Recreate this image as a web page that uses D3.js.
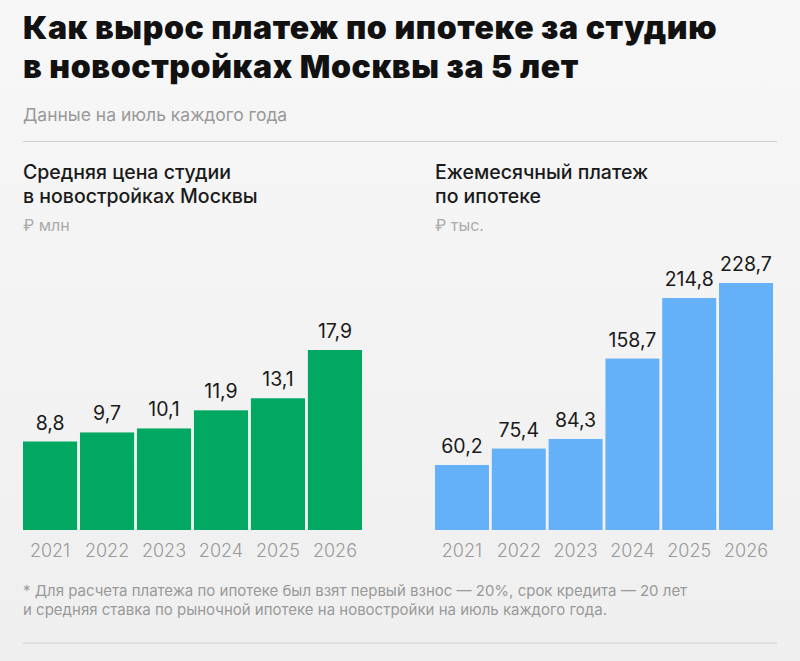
<!DOCTYPE html>
<html>
<head>
<meta charset="utf-8">
<script src="https://cdn.jsdelivr.net/npm/d3@7"></script>
<style>
  html, body { margin: 0; padding: 0; background: #f2f2f2; }
  svg { display: block; font-family: Inter, "Noto Sans", sans-serif; }
</style>
</head>
<body>
<div id="chart"></div>
<script>
/* Платеж по ипотеке за студию, Москва */

const width = 800,
    height = 661;

// data
const years = ["2021", "2022", "2023", "2024", "2025", "2026"];
const price = [8.8, 9.7, 10.1, 11.9, 13.1, 17.9];        // ₽ млн
const payment = [60.2, 75.4, 84.3, 158.7, 214.8, 228.7]; // ₽ тыс.

const titleLines = ["Как вырос платеж по ипотеке за студию", "в новостройках Москвы за 5 лет"];
const subtitle = "Данные на июль каждого года";
const leftTitle = ["Средняя цена студии", "в новостройках Москвы"];
const leftUnit = "₽ млн";
const rightTitle = ["Ежемесячный платеж", "по ипотеке"];
const rightUnit = "₽ тыс.";
const footnote = [
  "* Для расчета платежа по ипотеке был взят первый взнос — 20%, срок кредита — 20 лет",
  "и средняя ставка по рыночной ипотеке на новостройки на июль каждого года."
];

const fmt = v => String(v).replace(".", ","); // russian decimal comma

const svg = d3.select("#chart")
  .append("svg")
  .attr("width", width)
  .attr("height", height)
  .attr("viewBox", [0, 0, width, height]);

// background
const grad = svg.append("defs").append("linearGradient")
  .attr("id", "bg").attr("x1", 0).attr("y1", 0).attr("x2", 0).attr("y2", 1);
grad.append("stop").attr("offset", "0%").attr("stop-color", "#f7f7f7");
grad.append("stop").attr("offset", "100%").attr("stop-color", "#efefef");
svg.append("rect").attr("width", width).attr("height", height).attr("fill", "url(#bg)");

// heading
svg.append("g").selectAll("text")
  .data(titleLines)
  .join("text")
    .attr("x", 23)
    .attr("y", (d, i) => 39 + i * 39)
    .attr("font-size", 32)
    .attr("font-weight", 900)
    .attr("letter-spacing", 0.6)
    .attr("fill", "#111")
    .text(d => d);

svg.append("text")
  .attr("x", 23).attr("y", 121)
  .attr("font-size", 17.5)
  .attr("fill", "#999")
  .text(subtitle);

svg.append("line")
  .attr("x1", 23).attr("x2", 777)
  .attr("y1", 141.5).attr("y2", 141.5)
  .attr("stroke", "#cfcfcf");

// one bar panel
function panel(x0, x1, values, color, head, unit, top) {
  const g = svg.append("g");

  g.selectAll(".head")
    .data(head)
    .join("text")
      .attr("class", "head")
      .attr("x", x0)
      .attr("y", (d, i) => 179 + i * 24)
      .attr("font-size", 19.5)
      .attr("font-weight", 500)
      .attr("fill", "#1a1a1a")
      .text(d => d);

  g.append("text")
    .attr("x", x0).attr("y", 231)
    .attr("font-size", 16)
    .attr("fill", "#aaa")
    .text(unit);

  let x = d3.scaleBand()
    .domain(years)
    .range([x0, x1])
    .paddingInner(0.05)
    .paddingOuter(0);

  let y = d3.scaleLinear()
    .domain([0, d3.max(values)])
    .range([530, top]);

  const data = years.map((yr, i) => ({ yr, v: values[i] }));

  g.selectAll("rect")
    .data(data)
    .join("rect")
      .attr("x", d => x(d.yr))
      .attr("y", d => y(d.v))
      .attr("width", x.bandwidth())
      .attr("height", d => y(0) - y(d.v))
      .attr("fill", color);

  g.selectAll(".val")
    .data(data)
    .join("text")
      .attr("class", "val")
      .attr("x", d => x(d.yr) + x.bandwidth() / 2)
      .attr("y", d => y(d.v) - 12)
      .attr("text-anchor", "middle")
      .attr("font-size", 19.5)
      .attr("fill", "#1a1a1a")
      .text(d => fmt(d.v));

  // year axis, no line and no ticks
  const ax = g.append("g")
    .attr("transform", `translate(0,530)`)
    .call(d3.axisBottom(x).tickSize(0).tickPadding(14));
  ax.select(".domain").remove();
  ax.selectAll("text")
    .attr("font-family", "Inter, sans-serif")
    .attr("font-size", 18)
    .attr("font-weight", 300)
    .attr("fill", "#9a9a9a");
}

panel(23, 362, price, "#00a862", leftTitle, leftUnit, 350);
panel(435, 773, payment, "#64b0f9", rightTitle, rightUnit, 283);

// footnote
svg.append("g").selectAll("text")
  .data(footnote)
  .join("text")
    .attr("x", 23)
    .attr("y", (d, i) => 596 + i * 19)
    .attr("font-size", 15)
    .attr("fill", "#999")
    .text(d => d);

svg.append("line")
  .attr("x1", 23).attr("x2", 777)
  .attr("y1", 643).attr("y2", 643)
  .attr("stroke", "#cfcfcf");
</script>
</body>
</html>
